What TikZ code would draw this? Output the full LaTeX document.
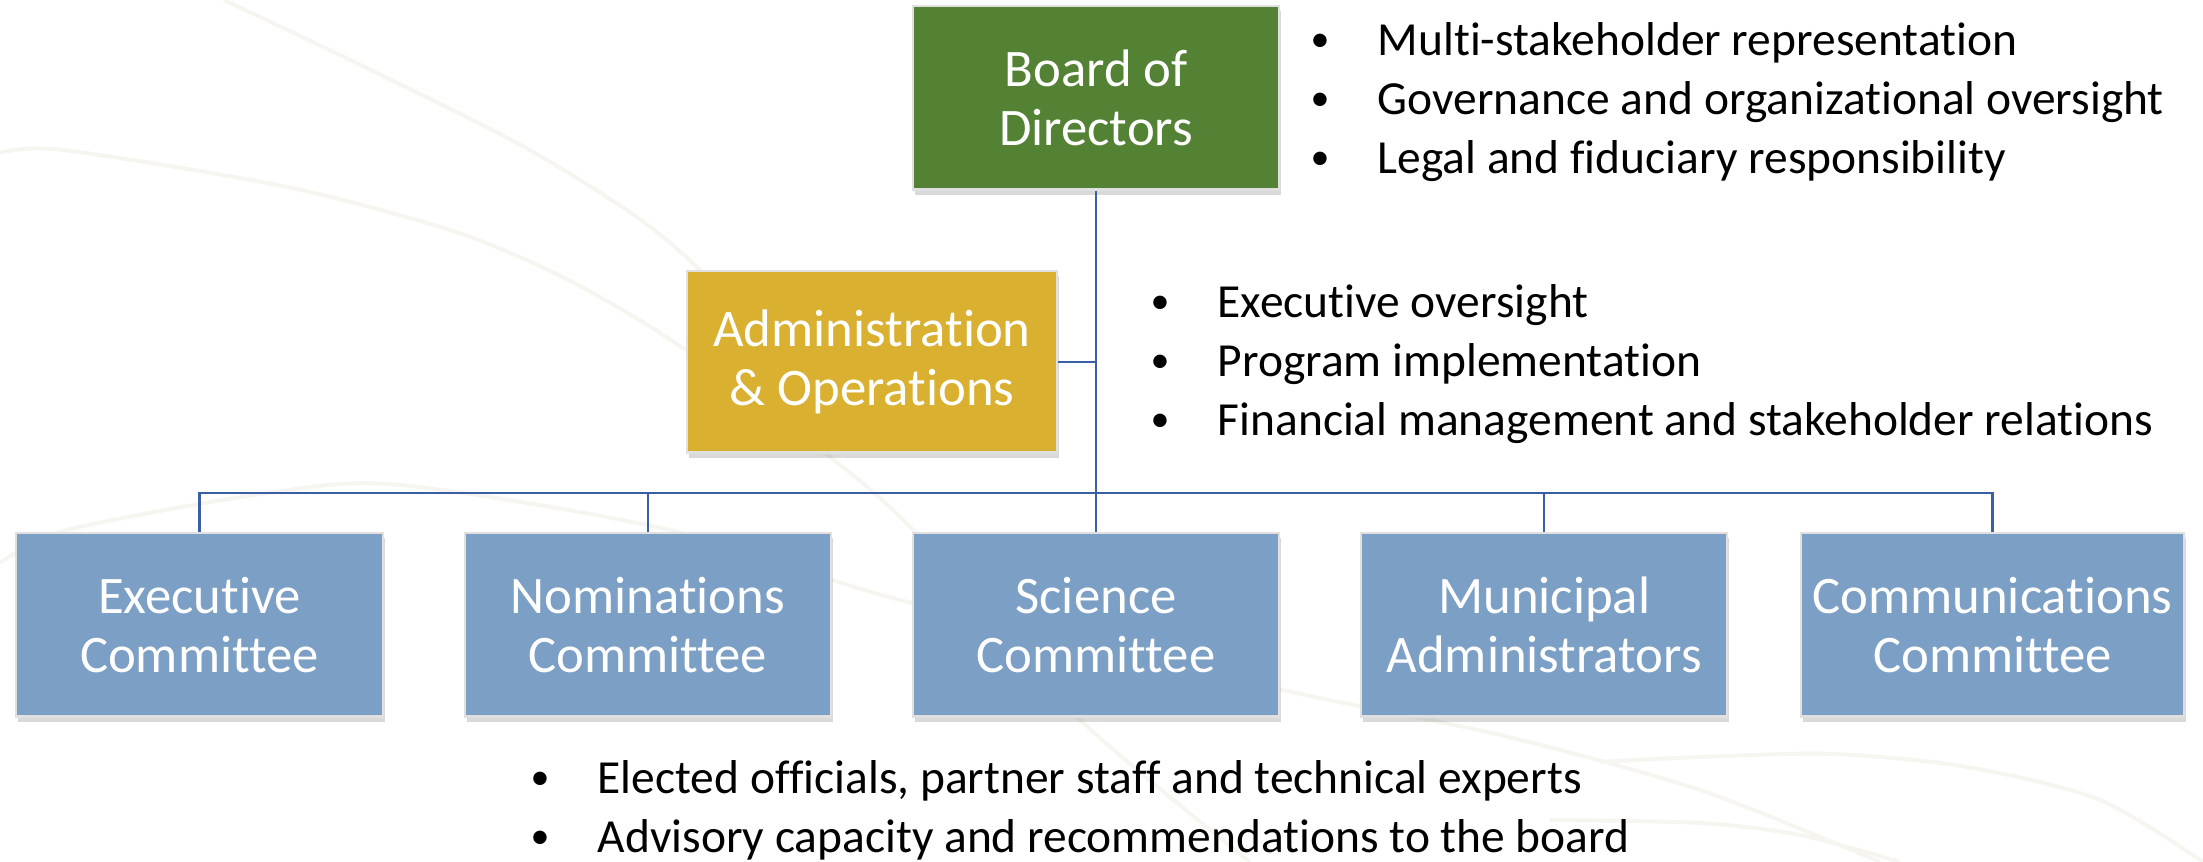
\documentclass[tikz,border=0pt]{standalone}
\usepackage{fontspec}
\setmainfont{Carlito}[Ligatures=NoCommon]
\usepackage{tikz}
\usetikzlibrary{shadows}
\usetikzlibrary{positioning}

\definecolor{boardgreen}{RGB}{84,130,53}
\definecolor{admingold}{RGB}{218,176,48}
\definecolor{commblue}{RGB}{124,159,197}
\definecolor{linkblue}{RGB}{58,95,165}
\definecolor{swoosh}{RGB}{246,245,240}

\newcommand{\bul}{\makebox[0.67cm][l]{\raisebox{0.08em}{\scalebox{0.8}{\textbullet}}}}

\tikzset{
  unit/.style={rectangle,draw=white!88!black,line width=0.6pt,text=white,align=center,
    minimum width=3.66cm,minimum height=1.83cm,font=\fontsize{15}{16.8}\selectfont,
    drop shadow={shadow xshift=0.02cm,shadow yshift=-0.05cm,opacity=0.3}},
  link/.style={draw=linkblue,line width=0.65pt},
  notes/.style={align=left,anchor=west,inner sep=0pt,font=\fontsize{13.5}{16.8}\selectfont},
  swooshline/.style={draw=swoosh,line width=0.04cm}
}

\begin{document}
\begin{tikzpicture}[x=0.01cm,y=-0.01cm]
\useasboundingbox (0,0) rectangle (2203,862);

% Draw the faint arcs in the background
\draw[swooshline] plot[smooth] coordinates {(224,0) (344,57) (517,143) (631,213) (700,270) (780,360)};
\draw[swooshline] plot[smooth] coordinates {(0,153) (63,150) (287,187) (459,233) (574,283) (686,350) (830,457) (893,510) (960,580) (1077,717) (1250,862)};
\draw[swooshline] plot[smooth] coordinates {(0,563) (67,530) (268,493) (400,485) (670,530) (900,600) (1283,690) (1500,735) (1700,790) (1880,862)};
\draw[swooshline] plot[smooth] coordinates {(1600,762) (1700,757) (1833,754) (1967,767) (2100,800) (2203,862)};
\draw[swooshline] plot[smooth] coordinates {(1550,820) (1700,823) (1800,835) (1900,862)};

% Draw the nodes used for the picture
\node[unit,fill=boardgreen](board) at (1096,98){Board of\\Directors};
\node[unit,fill=admingold,minimum width=3.69cm,minimum height=1.81cm](admin) at (872,362){Administration\\\& Operations};
\node[unit,fill=commblue](science) at (1096,625){Science\\Committee};
\node[unit,fill=commblue,left of=science,node distance=4.48cm](nom){Nominations\\Committee};
\node[unit,fill=commblue,left of=nom,node distance=4.48cm](exec){Executive\\Committee};
\node[unit,fill=commblue,right of=science,node distance=4.48cm](muni){Municipal\\Administrators};
\node[unit,fill=commblue,right of=muni,node distance=4.48cm](comms){Communications\\Committee};
\coordinate(bus) at (1096,493);

% Draw the bullet notes
\node[notes](boardnotes) at (1310,102){\bul Multi-stakeholder representation\\\bul Governance and organizational oversight\\\bul Legal and fiduciary responsibility};
\node[notes](adminnotes) at (1150,364){\bul Executive oversight\\\bul Program implementation\\\bul Financial management and stakeholder relations};
\node[notes](commnotes) at (530,810){\bul Elected officials, partner staff and technical experts\\\bul Advisory capacity and recommendations to the board};

% Draw the edges between the nodes
\draw[link] (board.south) -- (science.north);
\draw[link] (admin.east) -- (admin.east -| board.south);
\draw[link] (exec.north) |- (bus) -| (comms.north);
\draw[link] (nom.north) -- (nom.north |- bus);
\draw[link] (muni.north) -- (muni.north |- bus);
\end{tikzpicture}
\end{document}
